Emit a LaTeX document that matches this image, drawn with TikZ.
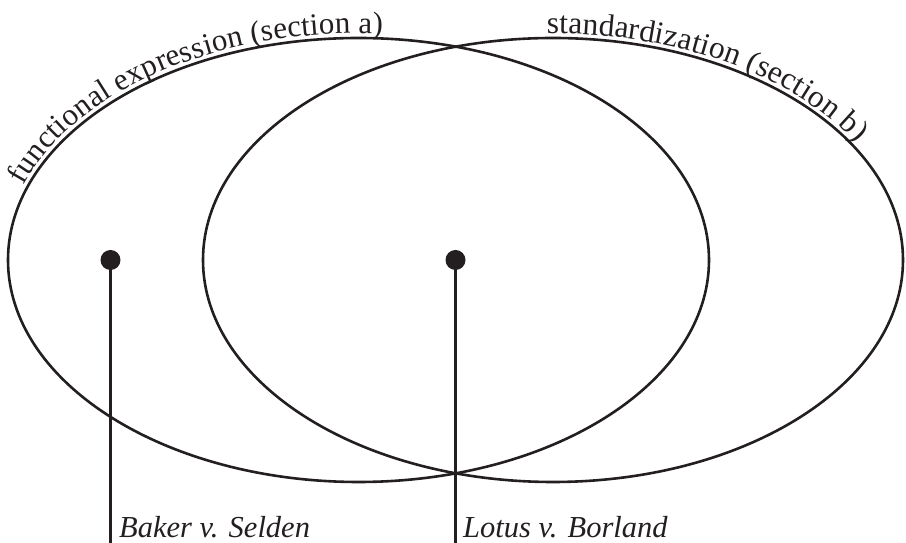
\documentclass[tikz,border=0pt]{standalone}
\usepackage{fontspec}
\setmainfont{Liberation Serif}
\usetikzlibrary{decorations.text}
\definecolor{ink}{RGB}{35,31,32}
\begin{document}
\begin{tikzpicture}[x=1pt,y=1pt,
  venn/.style={line width=2.6pt, draw=ink},
  stem/.style={line width=2.2pt, draw=ink},
  dotmark/.style={circle, fill=ink, minimum size=20pt, inner sep=0pt},
  caselabel/.style={anchor=base west, inner sep=0pt, font=\fontsize{30.5}{36}\selectfont\itshape, text=ink}]
\useasboundingbox (0,0) rectangle (906,543);
% ellipses (y measured upward: y = 543 - ypx)
\coordinate (cl) at (358.5,283);
\coordinate (cr) at (553,283);
\draw[venn] (cl) ellipse [x radius=350.5, y radius=222];
\draw[venn] (cr) ellipse [x radius=350, y radius=222];
% curved titles
\path[decorate, decoration={text along path, raise=4.5pt,
  text={|\fontsize{31}{37}\selectfont\color{ink}|functional expression (section a)}}]
  (cl) ++(161:350.5 and 222) arc[start angle=161, end angle=50, x radius=350.5, y radius=222];
\path[decorate, decoration={text along path, raise=4.5pt,
  text={|\fontsize{31.5}{37}\selectfont\color{ink}|standardization (section b)}}]
  (cr) ++(91:350 and 222) arc[start angle=91, end angle=0, x radius=350, y radius=222];
% dots and stems
\node[dotmark] (d1) at (110.5,283) {};
\node[dotmark] (d2) at (455.5,283) {};
\coordinate (e1) at (110.5,0);
\coordinate (e2) at (455.5,0);
\draw[stem] (d1.center) -- (e1);
\draw[stem] (d2.center) -- (e2);
\node[caselabel] (l1) at (119,5.5) {Baker v. Selden};
\node[caselabel] (l2) at (463,5.5) {Lotus v. Borland};
\end{tikzpicture}
\end{document}
